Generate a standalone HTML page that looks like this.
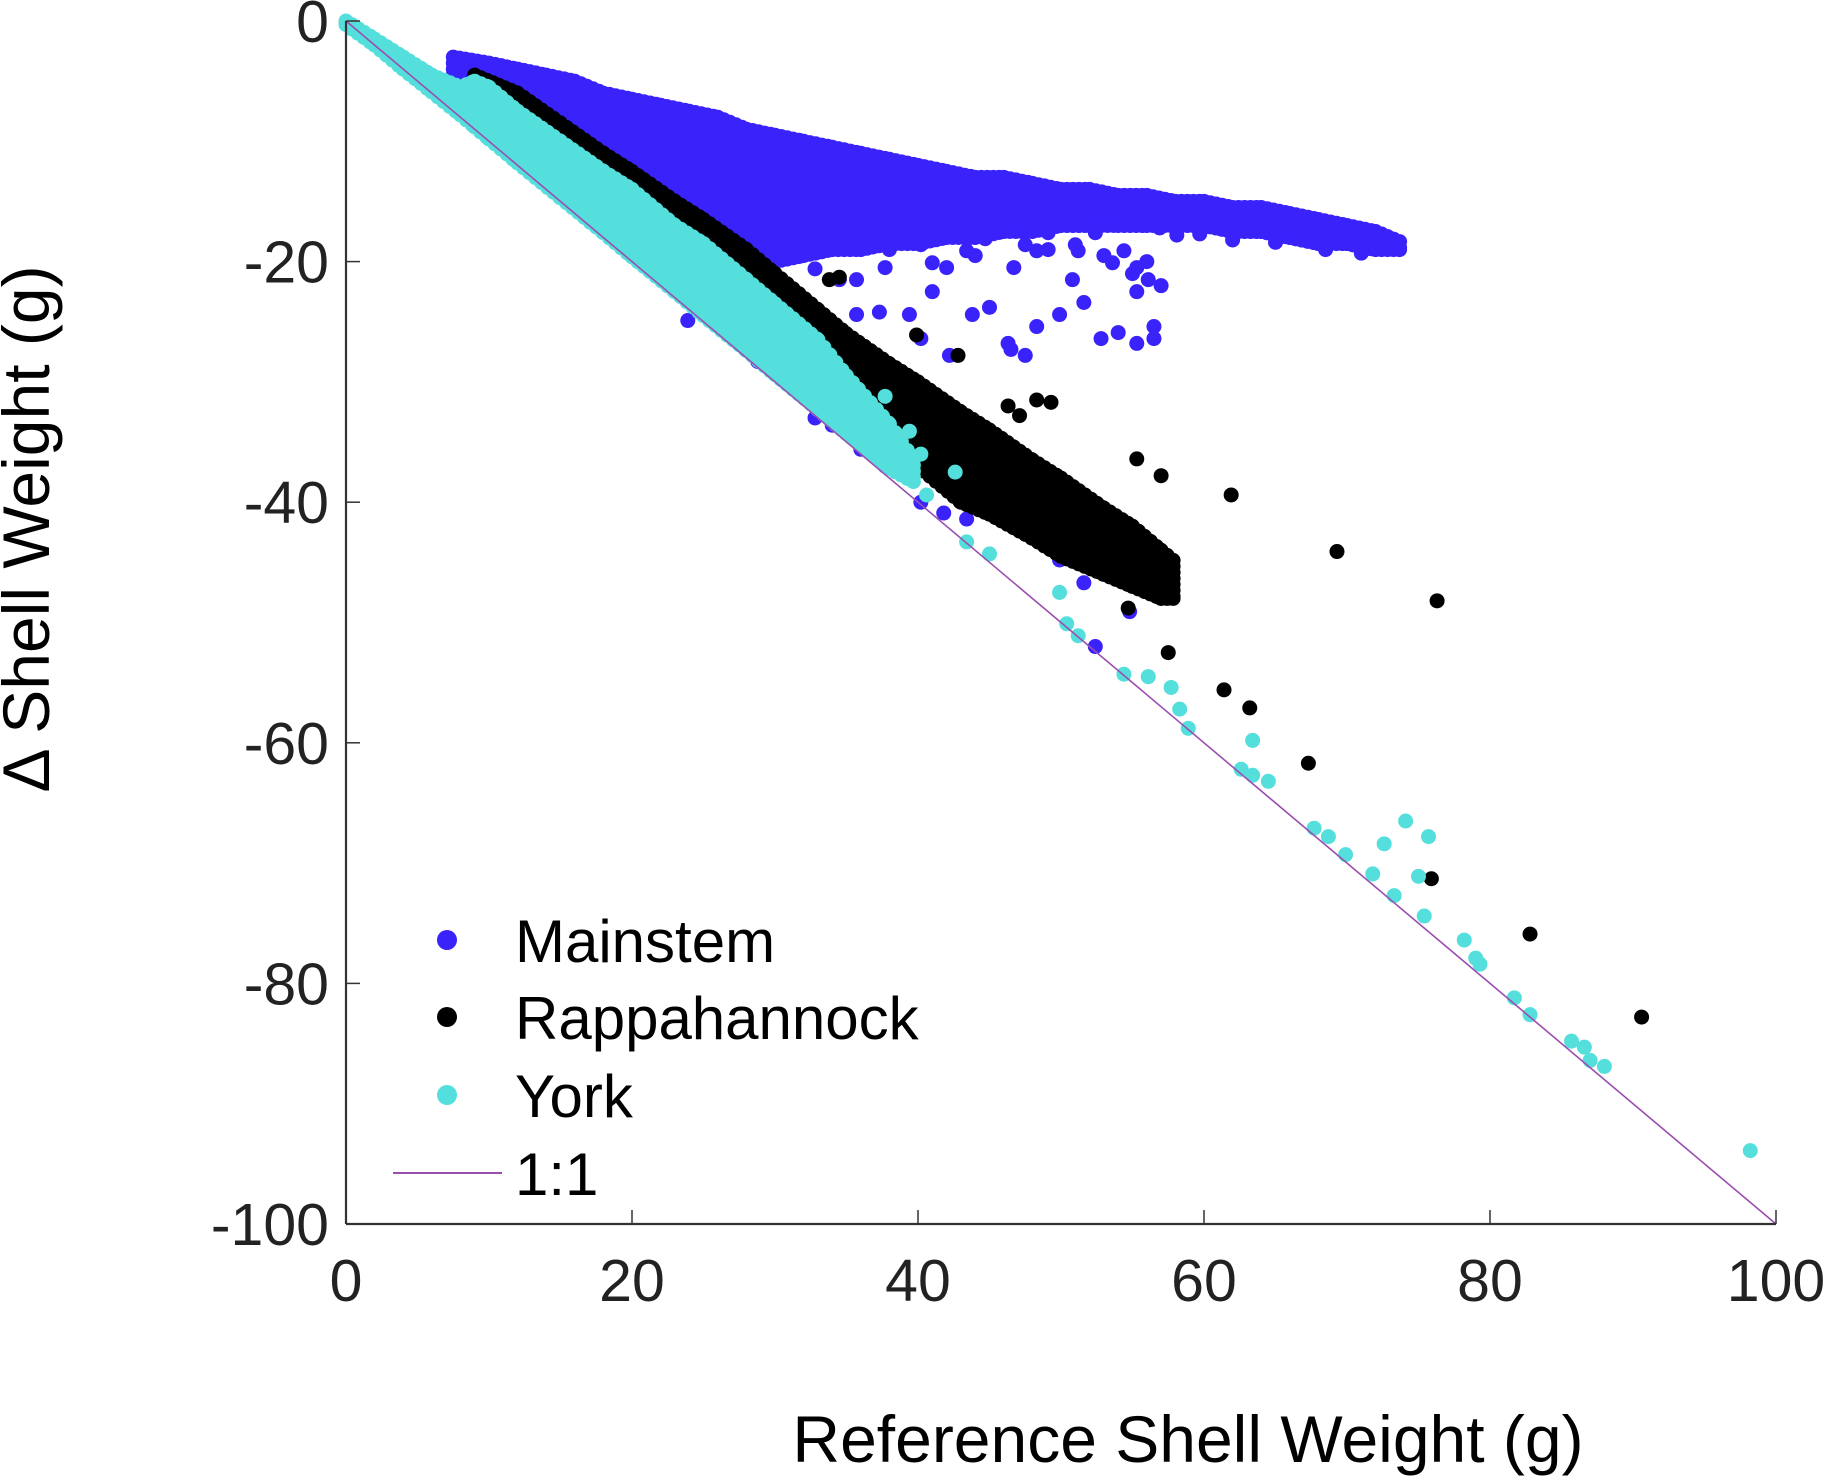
<!DOCTYPE html>
<html><head><meta charset="utf-8"><style>
html,body{margin:0;padding:0;background:#fff;}
svg{display:block;font-family:"Liberation Sans",Arial,sans-serif;}
</style></head><body>
<svg id="chart" width="1827" height="1478" viewBox="0 0 1827 1478" xmlns="http://www.w3.org/2000/svg">
<g id="marks"></g>
<g id="axes"></g>
<g id="legend"></g>
<text x="1188" y="1462" font-size="66" text-anchor="middle" fill="#000">Reference Shell Weight (g)</text>
<text transform="translate(49,529) rotate(-90)" font-size="66" text-anchor="middle" fill="#000">Δ Shell Weight (g)</text>
</svg>
<script>
const xTicks = [0,20,40,60,80,100];
const yTicks = [0,-20,-40,-60,-80,-100];
// dense band edges: [x, top, bottom]
const mainstemBand = [[7.5,-3,-4.5],[10,-3.5,-6],[12,-4,-8],[14,-4.5,-10],[16,-5,-11.5],[18,-6,-13],[20,-6.5,-14.5],[22,-7,-16],[24,-7.5,-17],[26,-8,-18.5],[28,-9,-19.5],[30,-9.5,-20],[32,-10,-19.5],[34,-10.5,-19],[36,-11,-19],[38,-11.5,-18.5],[40,-12,-18.5],[42,-12.5,-18],[44,-13,-18],[46,-13,-17.5],[48,-13.5,-17.5],[50,-14,-17],[52,-14,-17],[54,-14.5,-17],[56,-14.5,-17],[58,-15,-17],[60,-15,-17],[62,-15.5,-17.5],[64,-15.5,-17.5],[66,-16,-18],[68,-16.5,-18.5],[70,-17,-18.5],[72,-17.5,-19],[74,-18.5,-19]];
const rappBand = [[9,-4.5,-6],[12,-6,-8.5],[15,-8.5,-11],[18,-11,-14],[20,-12.5,-15.5],[23,-15,-19],[25,-16.5,-21],[28,-19,-24],[30,-21,-26],[33,-24,-29],[35,-26,-31],[38,-28.5,-34.5],[40,-30,-37],[43,-32.5,-40],[45,-34,-41],[48,-36.5,-43],[50,-38,-44.5],[53,-40.5,-46],[55,-42,-47],[57,-44,-48],[58,-45,-48]];
const yorkBand = [[0,0,-0.3],[2,-1.5,-2],[4,-3,-4],[6,-4.5,-5.9],[8,-5.5,-7.8],[9,-5,-8.8],[10,-5.5,-9.8],[12,-7.5,-11.8],[15,-10,-14.7],[18,-12.5,-17.6],[20,-14,-19.6],[23,-17,-22.5],[25,-18.5,-24.5],[28,-21.5,-27.4],[30,-23.5,-29.4],[33,-26.5,-32.3],[35,-29.5,-34.3],[38,-33.5,-37.2],[40,-37,-38.5]];
const mainstemPts = [[34.5,-21.5],[35.7,-24.4],[37.3,-24.2],[39.4,-24.4],[41,-22.5],[40.2,-26.4],[42.2,-27.8],[43.8,-24.4],[45,-23.8],[46.3,-26.8],[46.5,-27.3],[47.5,-27.8],[48.3,-25.4],[49.9,-24.4],[50.8,-21.5],[51.6,-23.4],[52.8,-26.4],[54,-25.9],[55.3,-26.8],[56.5,-25.4],[56.5,-26.4],[55.3,-22.5],[56,-20],[51,-18.6],[49.1,-19],[46.7,-20.5],[47.5,-18.6],[45.9,-17.2],[32.8,-33],[34,-33.6],[36,-35.6],[37.7,-37],[40.2,-40],[41.8,-40.9],[43.4,-41.4],[49.9,-44.8],[51.6,-46.7],[52.4,-52],[54.8,-49.1],[31.2,-30.2],[28.8,-28.3],[23.9,-24.9],[44,-19.5],[42,-20.5],[38,-19],[53,-19.5],[57,-22],[55,-21],[40.2,-18.6],[41,-20.1],[43.4,-19.1],[44.7,-18.1],[48.3,-19.1],[49.1,-17.6],[51.2,-19.1],[52.4,-17.6],[53.6,-20.1],[54.4,-19.1],[55.3,-20.5],[56.1,-21.5],[56.9,-17.2],[58.1,-17.8],[59.7,-17.7],[29.6,-19.8],[32.8,-20.6],[35.7,-21.5],[37.7,-20.5],[62,-18.2],[65,-18.4],[68.5,-19],[71,-19.3]];
const rappPts = [[4.5,-3.7],[5.5,-4.2],[33.8,-21.5],[34.5,-21.3],[39.9,-26.1],[42.8,-27.8],[46.3,-32],[47.1,-32.8],[48.3,-31.5],[49.3,-31.7],[55.3,-36.4],[57,-37.8],[61.9,-39.4],[69.3,-44.1],[76.3,-48.2],[54.7,-48.8],[57.5,-52.5],[61.4,-55.6],[63.2,-57.1],[67.3,-61.7],[75.9,-71.3],[82.8,-75.9],[90.6,-82.8]];
const yorkPts = [[37.7,-31.2],[39.4,-34.1],[40.2,-36],[42.6,-37.5],[40.6,-39.4],[43.4,-43.3],[45,-44.3],[49.9,-47.5],[50.4,-50.1],[51.2,-51.1],[54.4,-54.3],[56.1,-54.5],[57.7,-55.4],[58.3,-57.2],[58.9,-58.8],[62.6,-62.2],[63.4,-59.8],[63.4,-62.7],[64.5,-63.2],[67.7,-67.1],[68.7,-67.8],[69.9,-69.3],[71.8,-70.9],[72.6,-68.4],[73.3,-72.7],[74.1,-66.5],[75,-71.1],[75.7,-67.8],[75.4,-74.4],[78.2,-76.4],[79,-77.9],[79.3,-78.4],[81.7,-81.2],[82.8,-82.6],[85.7,-84.8],[86.6,-85.3],[87,-86.4],[88,-86.9],[98.2,-93.9]];
const seriesNames = ["Mainstem","Rappahannock","York","1:1"];

const NS="http://www.w3.org/2000/svg";
const X0=346,X1=1776,Y0=21,Y1=1224;
function sx(v){return X0+(v-0)/100*(X1-X0);}
function sy(v){return Y0+(0-v)/100*(Y1-Y0);}
function mk(tag,attrs,parent){const e=document.createElementNS(NS,tag);for(const k in attrs)e.setAttribute(k,attrs[k]);parent.appendChild(e);return e;}
const marks=document.getElementById('marks');
const axes=document.getElementById('axes');
const legend=document.getElementById('legend');
const R=7.5;
function drawBand(band,color,name){
  const g=mk('g',{fill:color},marks);
  
  
  for(let i=0;i<band.length-1;i++){
    const a=band[i],b=band[i+1];
    const px0=sx(a[0]),px1=sx(b[0]);
    for(let px=px0;px<px1;px+=6){
      const t=(px-px0)/(px1-px0);
      const top=sy(a[1]+(b[1]-a[1])*t),bot=sy(a[2]+(b[2]-a[2])*t);
      for(let py=top;py<=bot+0.1;py+=6){
        const c=mk('circle',{cx:px.toFixed(1),cy:py.toFixed(1),r:R},g);
        
        
      }
      const c2=mk('circle',{cx:px.toFixed(1),cy:bot.toFixed(1),r:R},g);
      
      
    }
  }
}
function drawPts(pts,color,name){
  const g=mk('g',{fill:color},marks);
  
  
  pts.forEach(p=>{
    const c=mk('circle',{cx:sx(p[0]),cy:sy(p[1]),r:R},g);
    
    
  });
}
const cBlue="#3a22fb",cBlack="#000",cCyan="#55dfdc",cLine="#9a4fb0";
drawBand(mainstemBand,cBlue,'mainstem');drawPts(mainstemPts,cBlue,'mainstem');
drawBand(rappBand,cBlack,'rappahannock');drawPts(rappPts,cBlack,'rappahannock');
drawBand(yorkBand,cCyan,'york');drawPts(yorkPts,cCyan,'york');
const ln=mk('line',{x1:sx(0),y1:sy(0),x2:sx(100),y2:sy(-100),stroke:cLine,'stroke-width':1.6},marks);


// axes
const xa=mk('line',{x1:X0,y1:Y1,x2:X1,y2:Y1,stroke:'#333','stroke-width':2.2},axes);


const ya=mk('line',{x1:X0,y1:Y0,x2:X0,y2:Y1,stroke:'#333','stroke-width':2.2},axes);


xTicks.forEach(v=>{
  const t=mk('line',{x1:sx(v),y1:Y1,x2:sx(v),y2:Y1-14,stroke:'#333','stroke-width':1.5},axes);
  
  
  const l=mk('text',{x:sx(v),y:1301,'font-size':59,'text-anchor':'middle',fill:'#222'},axes);
  l.textContent=v;
  
  
});
yTicks.forEach(v=>{
  const t=mk('line',{x1:X0,y1:sy(v),x2:X0+14,y2:sy(v),stroke:'#333','stroke-width':1.5},axes);
  
  
  const l=mk('text',{x:329,y:sy(v)+21,'font-size':59,'text-anchor':'end',fill:'#222'},axes);
  l.textContent=v;
  
  
});
// legend
const legCol=[cBlue,cBlack,cCyan];
const legY=[940,1017,1095,1173];
seriesNames.forEach((n,i)=>{
  const g=mk('g',{},legend);
  
  
  if(i<3){
    const c=mk('circle',{cx:447,cy:legY[i],r:10,fill:legCol[i]},g);
    
    
  } else {
    const l=mk('line',{x1:393,y1:legY[i],x2:502,y2:legY[i],stroke:cLine,'stroke-width':2},g);
    
    
  }
  const t=mk('text',{x:515,y:legY[i]+22,'font-size':60,fill:'#000'},g);
  t.textContent=n;
  
  
});
</script>
</body></html>
